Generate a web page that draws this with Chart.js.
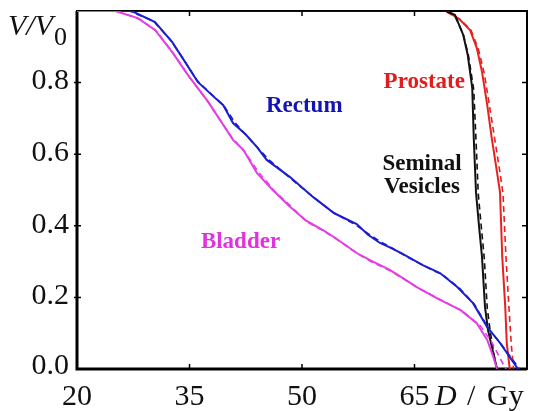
<!DOCTYPE html>
<html>
<head>
<meta charset="utf-8">
<script src="https://cdn.jsdelivr.net/npm/chart.js@4.4.1/dist/chart.umd.min.js"></script>
<style>
  body { margin: 0; background: #fff; }
  canvas { display: block; }
</style>
</head>
<body>
<canvas id="dvh" width="534" height="411"></canvas>
<script>
// Dose (Gy) and relative volume V/V0
const rectumDose = [20, 27.3, 30.4, 32.7, 34.4, 36.1, 38.0, 39.5, 40.8, 42.5, 44.0, 45.3, 48.4, 51.5, 54.3, 57.3, 58.8, 60.4, 61.7, 63.3, 66.1, 68.4, 70.7, 72.8, 74.7, 76.4, 78.8];
const rectumV    = [1.0, 1.0, 0.969, 0.913, 0.858, 0.802, 0.765, 0.737, 0.687, 0.655, 0.62, 0.584, 0.536, 0.48, 0.435, 0.405, 0.375, 0.352, 0.34, 0.323, 0.29, 0.268, 0.229, 0.184, 0.117, 0.073, 0.0];
const rectumFitDose = [20, 27.0, 30.2, 32.5, 34.3, 36.0, 37.9, 39.6, 41.0, 42.6, 44.1, 45.5, 48.5, 51.4, 54.2, 57.2, 58.9, 60.5, 62.0, 63.6, 66.3, 68.8, 71.0, 73.0, 74.9, 76.6, 79.0];
const rectumFitV    = [1.0, 1.0, 0.972, 0.918, 0.862, 0.806, 0.768, 0.735, 0.69, 0.652, 0.618, 0.586, 0.532, 0.482, 0.437, 0.402, 0.377, 0.355, 0.338, 0.318, 0.288, 0.262, 0.226, 0.18, 0.112, 0.068, 0.0];

const bladderDose = [20, 25.1, 28.1, 30.4, 32.7, 34.8, 37.5, 40.8, 42.2, 44.0, 46.1, 48.4, 50.5, 52.8, 54.3, 57.3, 59.0, 61.7, 63.3, 65.3, 68.4, 71.1, 73.3, 74.7, 75.5, 76.0];
const bladderV    = [1.0, 1.0, 0.98, 0.947, 0.885, 0.821, 0.746, 0.64, 0.612, 0.547, 0.5, 0.453, 0.415, 0.388, 0.368, 0.324, 0.305, 0.277, 0.256, 0.229, 0.193, 0.165, 0.128, 0.081, 0.034, 0.0];
const bladderFitDose = [20, 25.3, 28.3, 30.6, 32.9, 35.0, 37.6, 40.6, 42.3, 44.2, 46.3, 48.5, 50.6, 52.9, 54.5, 57.4, 59.2, 61.8, 63.5, 65.6, 68.8, 71.5, 73.8, 75.3, 76.4, 77.2];
const bladderFitV    = [1.0, 1.0, 0.978, 0.944, 0.88, 0.815, 0.742, 0.648, 0.608, 0.55, 0.498, 0.455, 0.412, 0.385, 0.364, 0.322, 0.3, 0.274, 0.252, 0.225, 0.19, 0.16, 0.12, 0.075, 0.03, 0.0];

const vesiclesDose = [20, 69.3, 70.4, 71.5, 72.1, 72.7, 72.9, 73.2, 73.6, 74.0, 74.4, 74.8, 75.5, 76.0];
const vesiclesV    = [1.0, 1.0, 0.989, 0.933, 0.877, 0.785, 0.645, 0.494, 0.40, 0.313, 0.173, 0.109, 0.045, 0.0];
const vesiclesFitDose = [20, 69.0, 70.3, 71.5, 72.2, 72.9, 73.2, 73.5, 73.9, 74.3, 74.7, 75.1, 75.6, 76.0];
const vesiclesFitV    = [1.0, 1.0, 0.99, 0.935, 0.875, 0.78, 0.64, 0.49, 0.398, 0.31, 0.17, 0.105, 0.04, 0.0];

const prostateDose = [52, 69.3, 71.1, 72.4, 73.3, 74.0, 74.7, 75.3, 76.0, 76.4, 76.7, 77.1, 77.3, 77.7];
const prostateV    = [1.0, 1.0, 0.975, 0.947, 0.897, 0.83, 0.737, 0.645, 0.55, 0.494, 0.313, 0.173, 0.073, 0.0];
const prostateFitDose = [52, 69.0, 71.0, 72.5, 73.5, 74.3, 75.0, 75.7, 76.4, 76.8, 77.2, 77.6, 77.9, 78.2];
const prostateFitV    = [1.0, 1.0, 0.978, 0.948, 0.895, 0.826, 0.735, 0.642, 0.548, 0.49, 0.31, 0.17, 0.07, 0.0];

// Axis ticks
const xTicks = [20, 35, 50, 65];
const yTicks = [0.0, 0.2, 0.4, 0.6, 0.8];
const yTickLabels = ['0.0', '0.2', '0.4', '0.6', '0.8'];

// Curve annotations: text, dose (x), volume (y) of the text baseline centre
const notes = [
  { text: 'Rectum',   x: 50.3, y: 0.717, color: '#1414b4' },
  { text: 'Prostate', x: 66.3, y: 0.785, color: '#e01c1c' },
  { text: 'Seminal',  x: 66.0, y: 0.556, color: '#111111' },
  { text: 'Vesicles', x: 66.0, y: 0.492, color: '#111111' },
  { text: 'Bladder',  x: 41.8, y: 0.338, color: '#e033e0' }
];

const BLUE = '#1c1cd0';
const MAGENTA = '#e63ce6';
const RED = '#e82020';
const BLACK = '#111111';

function pts(xs, ys) {
  return xs.map((x, i) => ({ x: x, y: ys[i] }));
}

function line(label, xs, ys, color, dashed) {
  return {
    label: label,
    data: pts(xs, ys),
    borderColor: color,
    borderWidth: dashed ? 1.6 : 2,
    borderDash: dashed ? [6, 4] : [],
    pointRadius: 0,
    fill: false,
    tension: 0
  };
}

const serif = '"Liberation Serif", "DejaVu Serif", serif';

const frame = {
  id: 'frame',
  beforeDatasetsDraw(chart) {
    const { ctx, chartArea: a, scales: { x, y } } = chart;
    ctx.save();
    ctx.strokeStyle = '#000';
    ctx.lineWidth = 2;
    ctx.strokeRect(a.left, a.top, a.right - a.left, a.bottom - a.top);
    // thicker left and bottom axis
    ctx.lineWidth = 3;
    ctx.beginPath();
    ctx.moveTo(a.left, a.top);
    ctx.lineTo(a.left, a.bottom);
    ctx.lineTo(a.right, a.bottom);
    ctx.stroke();
    ctx.lineWidth = 1.5;
    ctx.beginPath();
    xTicks.slice(1).forEach(v => {
      const px = x.getPixelForValue(v);
      ctx.moveTo(px, a.bottom); ctx.lineTo(px, a.bottom - 5);
      ctx.moveTo(px, a.top); ctx.lineTo(px, a.top + 5);
    });
    yTicks.slice(1).forEach(v => {
      const py = y.getPixelForValue(v);
      ctx.moveTo(a.left - 3, py); ctx.lineTo(a.left + 4, py);
      ctx.moveTo(a.right, py); ctx.lineTo(a.right - 5, py);
    });
    ctx.stroke();
    ctx.restore();
  },
  afterDatasetsDraw(chart) {
    const { ctx, chartArea: a, scales: { x, y } } = chart;
    ctx.save();
    ctx.fillStyle = '#111';
    ctx.font = '30px ' + serif;
    // y tick labels
    ctx.textAlign = 'right';
    ctx.textBaseline = 'middle';
    yTicks.forEach((v, i) => {
      ctx.fillText(yTickLabels[i], a.left - 8, y.getPixelForValue(v) - (i === 0 ? 3 : 1));
    });
    // x tick labels
    ctx.textAlign = 'center';
    ctx.textBaseline = 'alphabetic';
    xTicks.forEach(v => {
      ctx.fillText(String(v), x.getPixelForValue(v), 405);
    });
    // x axis title: D / Gy
    ctx.textAlign = 'left';
    ctx.font = 'italic 30px ' + serif;
    ctx.fillText('D', 435, 405);
    ctx.font = '30px ' + serif;
    ctx.fillText('/', 467, 405);
    ctx.fillText('Gy', 487, 405);
    // y axis title: V/V0
    ctx.font = 'italic 30px ' + serif;
    ctx.fillText('V/V', 8, 35);
    ctx.font = '26px ' + serif;
    ctx.fillText('0', 54, 45);
    // curve labels
    ctx.textAlign = 'center';
    ctx.font = 'bold 23px ' + serif;
    notes.forEach(n => {
      ctx.fillStyle = n.color;
      ctx.fillText(n.text, x.getPixelForValue(n.x), y.getPixelForValue(n.y));
    });
    ctx.restore();
  }
};

new Chart(document.getElementById('dvh'), {
  type: 'line',
  data: {
    datasets: [
      line('Bladder', bladderDose, bladderV, MAGENTA, false),
      line('Bladder fit', bladderFitDose, bladderFitV, MAGENTA, true),
      line('Rectum', rectumDose, rectumV, BLUE, false),
      line('Rectum fit', rectumFitDose, rectumFitV, BLUE, true),
      line('Seminal Vesicles', vesiclesDose, vesiclesV, BLACK, false),
      line('Seminal Vesicles fit', vesiclesFitDose, vesiclesFitV, BLACK, true),
      line('Prostate', prostateDose, prostateV, RED, false),
      line('Prostate fit', prostateFitDose, prostateFitV, RED, true)
    ]
  },
  options: {
    responsive: false,
    animation: false,
    devicePixelRatio: 1,
    layout: { padding: { left: 77, top: 11, right: 7, bottom: 42 } },
    scales: {
      x: { type: 'linear', min: 20, max: 80, display: false },
      y: { type: 'linear', min: 0, max: 1, display: false }
    },
    plugins: {
      legend: { display: false },
      tooltip: { enabled: false }
    }
  },
  plugins: [frame]
});
</script>
</body>
</html>
